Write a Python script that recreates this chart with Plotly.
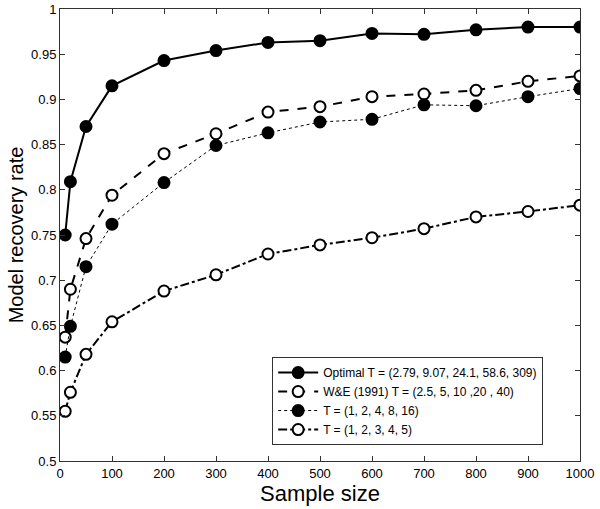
import plotly.graph_objects as go

# Sample sizes along the x axis
sample_sizes = [10, 20, 50, 100, 200, 300, 400, 500, 600, 700, 800, 900, 1000]

# Recovery rates
optimal = [0.750, 0.809, 0.870, 0.915, 0.943, 0.954, 0.963, 0.965, 0.973, 0.972, 0.977, 0.980, 0.980]
we_1991 = [0.637, 0.690, 0.746, 0.794, 0.840, 0.862, 0.886, 0.892, 0.903, 0.906, 0.910, 0.920, 0.926]
t_doubling = [0.615, 0.649, 0.715, 0.762, 0.808, 0.849, 0.863, 0.875, 0.878, 0.894, 0.893, 0.903, 0.912]
t_linear = [0.555, 0.576, 0.618, 0.654, 0.688, 0.706, 0.729, 0.739, 0.747, 0.757, 0.770, 0.776, 0.783]

series_names = [
    "Optimal T = (2.79, 9.07, 24.1, 58.6, 309)",
    "W&E (1991) T = (2.5, 5, 10 ,20 , 40)",
    "T = (1, 2, 4, 8, 16)",
    "T = (1, 2, 3, 4, 5)",
]

y_ticks = [0.5, 0.55, 0.6, 0.65, 0.7, 0.75, 0.8, 0.85, 0.9, 0.95, 1.0]
y_tick_labels = ["0.5", "0.55", "0.6", "0.65", "0.7", "0.75", "0.8", "0.85", "0.9", "0.95", "1"]
x_ticks = [0, 100, 200, 300, 400, 500, 600, 700, 800, 900, 1000]

fig = go.Figure()

# line style, width, filled marker?
styles = [
    ("solid", 2, True),
    ("dash", 2, False),
    ("dot", 1, True),
    ("dashdot", 2, False),
]

for name, values, (dash, width, filled) in zip(series_names, [optimal, we_1991, t_doubling, t_linear], styles):
    fig.add_trace(go.Scatter(
        x=sample_sizes,
        y=values,
        name=name,
        mode="lines+markers",
        line=dict(color="black", width=width, dash=dash),
        marker=dict(
            size=11,
            color="black" if filled else "white",
            line=dict(color="black", width=2),
        ),
    ))

fig.update_layout(
    width=600,
    height=509,
    margin=dict(l=60, r=20, t=9, b=48),
    plot_bgcolor="white",
    paper_bgcolor="white",
    font=dict(family="Liberation Sans, Arial, sans-serif", color="black", size=13),
    showlegend=True,
    legend=dict(
        x=0.408,
        y=0.23,
        xanchor="left",
        yanchor="top",
        bgcolor="white",
        bordercolor="#333",
        borderwidth=1,
        font=dict(size=12, color="black"),
        tracegroupgap=0,
        itemwidth=40,
    ),
    xaxis=dict(
        title=dict(text="Sample size", font=dict(size=22), standoff=1),
        automargin=False,
        range=[0, 1000],
        tickvals=x_ticks,
        ticks="inside",
        ticklen=5,
        tickcolor="#333",
        showline=True,
        linecolor="#333",
        linewidth=1,
        mirror="ticks",
        showgrid=False,
        zeroline=False,
    ),
    yaxis=dict(
        title=dict(text="Model recovery rate", font=dict(size=20), standoff=2),
        automargin=False,
        range=[0.5, 1.0],
        tickvals=y_ticks,
        ticktext=y_tick_labels,
        ticks="inside",
        ticklen=5,
        tickcolor="#333",
        showline=True,
        linecolor="#333",
        linewidth=1,
        mirror="ticks",
        showgrid=False,
        zeroline=False,
    ),
)

# drop the default page margin so the figure fills the window exactly
fig.write_html(
    "out.html",
    config={"displayModeBar": False},
    post_script="document.body.style.margin='0';",
)
